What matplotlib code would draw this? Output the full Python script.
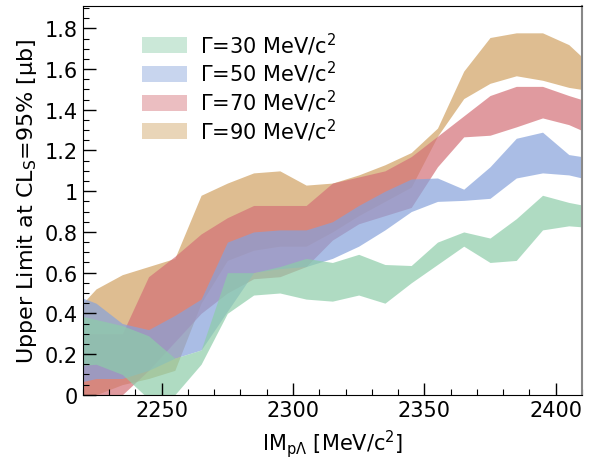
import matplotlib
matplotlib.use('Agg')
import matplotlib.pyplot as plt
from matplotlib.patches import Patch
from matplotlib.ticker import MultipleLocator, FuncFormatter

# mass points (MeV/c^2)
mass = [2215, 2225, 2235, 2245, 2255, 2265, 2275, 2285, 2295, 2305, 2315,
        2325, 2335, 2345, 2355, 2365, 2375, 2385, 2395, 2405, 2415]

# limit bands, Gamma = 30 / 50 / 70 / 90 MeV/c^2
g30_lo = [0.14, 0.15, 0.10, -0.02, 0.00, 0.15, 0.40, 0.49, 0.50, 0.47, 0.46,
          0.49, 0.45, 0.55, 0.64, 0.73, 0.65, 0.66, 0.81, 0.83, 0.82]
g30_hi = [0.40, 0.37, 0.34, 0.29, 0.18, 0.22, 0.60, 0.60, 0.63, 0.67, 0.65,
          0.69, 0.64, 0.635, 0.75, 0.80, 0.77, 0.865, 0.98, 0.945, 0.92]

g50_lo = [0.05, 0.08, 0.08, 0.12, 0.18, 0.22, 0.41, 0.60, 0.62, 0.63, 0.67,
          0.73, 0.81, 0.90, 0.95, 0.955, 0.965, 1.065, 1.09, 1.08, 1.05]
g50_hi = [0.50, 0.45, 0.35, 0.32, 0.39, 0.47, 0.75, 0.80, 0.81, 0.81, 0.85,
          0.93, 1.00, 1.06, 1.065, 1.01, 1.12, 1.26, 1.29, 1.18, 1.16]

g70_lo = [-0.05, -0.02, 0.00, 0.12, 0.26, 0.40, 0.50, 0.57, 0.58, 0.63, 0.76,
          0.84, 0.88, 0.92, 1.12, 1.267, 1.275, 1.316, 1.36, 1.327, 1.27]
g70_hi = [0.30, 0.30, 0.30, 0.58, 0.68, 0.79, 0.87, 0.93, 0.93, 0.93, 1.04,
          1.07, 1.10, 1.17, 1.27, 1.37, 1.47, 1.515, 1.515, 1.47, 1.43]

g90_lo = [-0.05, 0.00, 0.05, 0.08, 0.12, 0.45, 0.66, 0.71, 0.73, 0.73, 0.80,
          0.88, 0.95, 1.02, 1.27, 1.455, 1.53, 1.567, 1.545, 1.51, 1.49]
g90_hi = [0.38, 0.52, 0.59, 0.63, 0.67, 0.98, 1.04, 1.09, 1.10, 1.03, 1.04,
          1.08, 1.13, 1.19, 1.31, 1.59, 1.755, 1.778, 1.778, 1.72, 1.60]

labels = ['Γ=30 MeV/c$^2$', 'Γ=50 MeV/c$^2$', 'Γ=70 MeV/c$^2$', 'Γ=90 MeV/c$^2$']
colors = ['#8dcda9', '#86a2db', '#d47077', '#d0a262']

fig = plt.figure(figsize=(5.92, 4.64), dpi=100)
ax = fig.add_axes([0.140, 0.147, 0.843, 0.838])

bands = [(g30_lo, g30_hi), (g50_lo, g50_hi), (g70_lo, g70_hi), (g90_lo, g90_hi)]
# widest width drawn first
for i in [3, 2, 1, 0]:
    lo, hi = bands[i]
    ax.fill_between(mass, lo, hi, color=colors[i], alpha=0.7, linewidth=0)

ax.set_xlim(2220, 2410)
ax.set_ylim(0, 1.91)

ax.xaxis.set_major_locator(MultipleLocator(50))
ax.xaxis.set_minor_locator(MultipleLocator(10))
ax.yaxis.set_major_locator(MultipleLocator(0.2))
ax.yaxis.set_minor_locator(MultipleLocator(0.05))
ax.yaxis.set_major_formatter(FuncFormatter(lambda v, p: '%g' % round(v, 2)))
ax.tick_params(which='both', direction='in', top=False, right=False, labelsize=15)
ax.tick_params(which='major', length=9, width=1)
ax.tick_params(which='minor', length=4.5, width=0.8)
ax.spines['right'].set_color('#888888')
ax.spines['right'].set_linewidth(1.5)

ax.set_xlabel('IM$_{\\rm p\\Lambda}$ [MeV/c$^2$]', fontsize=15, labelpad=5)
ax.set_ylabel('Upper Limit at CL$_{\\rm S}$=95% [μb]', fontsize=16, labelpad=4)

handles = [Patch(facecolor=c, alpha=0.45, linewidth=0) for c in colors]
ax.legend(handles, labels, loc='upper left', bbox_to_anchor=(0.08, 0.985),
          frameon=False, fontsize=15, handlelength=2.2, handleheight=0.8,
          labelspacing=0.12, handletextpad=0.6)

fig.savefig('out.png', dpi=100)
